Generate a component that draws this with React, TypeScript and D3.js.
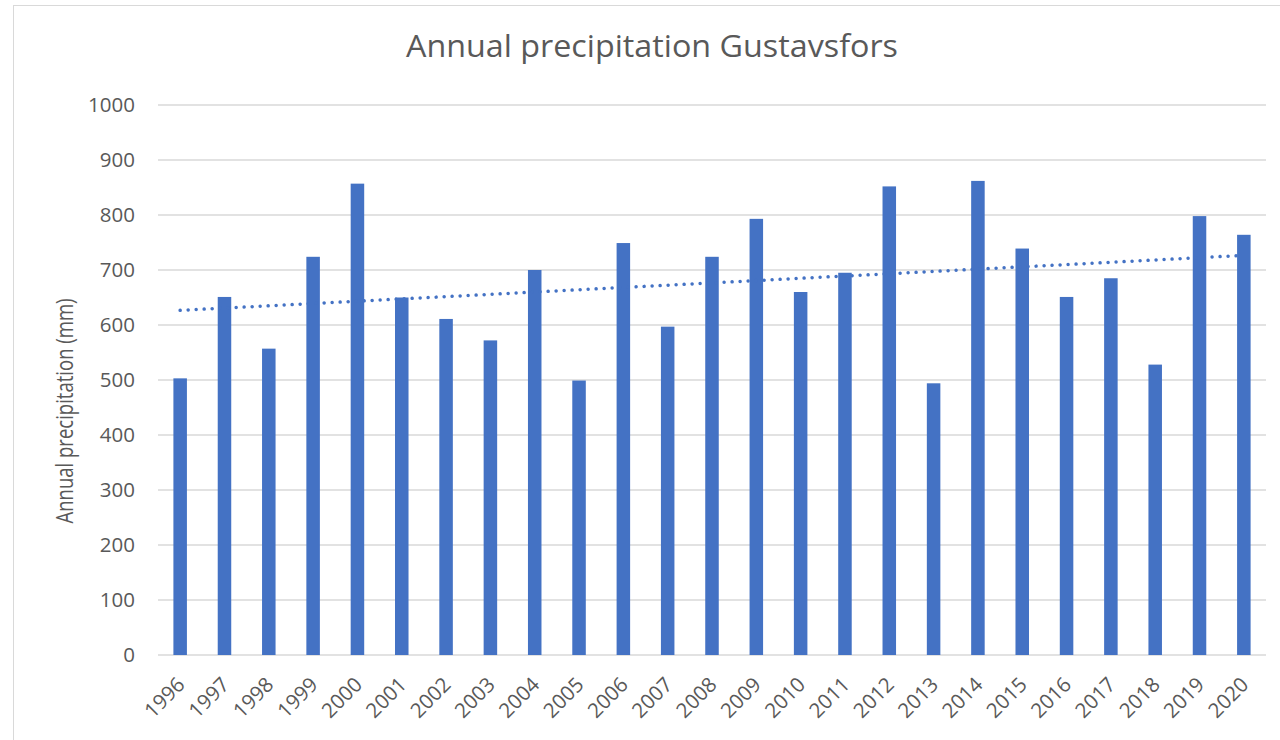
import React from "react";
import * as d3 from "d3";

const years = [
  "1996", "1997", "1998", "1999", "2000", "2001", "2002", "2003", "2004", "2005",
  "2006", "2007", "2008", "2009", "2010", "2011", "2012", "2013", "2014", "2015",
  "2016", "2017", "2018", "2019", "2020",
];
const precipitation = [
  503, 651, 557, 724, 857, 650, 611, 572, 700, 499,
  749, 597, 724, 793, 660, 695, 852, 494, 862, 739,
  651, 685, 528, 798, 764,
];
const yTicks = [0, 100, 200, 300, 400, 500, 600, 700, 800, 900, 1000];
const title = "Annual precipitation Gustavsfors";
const yAxisTitle = "Annual precipitation (mm)";

const W = 1280;
const H = 740;
const plotLeft = 158;
const plotRight = 1266;
const plotTop = 105;
const plotBottom = 655;
const textColor = "#595959";
const gridColor = "#D9D9D9";
const barColor = "#4472C4";
const font = "'Open Sans', sans-serif";

export default function App() {
  const x = d3
    .scaleBand<string>()
    .domain(years)
    .range([plotLeft, plotRight])
    .paddingInner(0.695)
    .paddingOuter(0.3475);
  const y = d3.scaleLinear().domain([0, 1000]).range([plotBottom, plotTop]);

  // linear trendline (least squares over category index)
  const n = precipitation.length;
  const xs = precipitation.map((_, i) => i + 1);
  const mx = d3.mean(xs) as number;
  const my = d3.mean(precipitation) as number;
  let num = 0;
  let den = 0;
  xs.forEach((xi, i) => {
    num += (xi - mx) * (precipitation[i] - my);
    den += (xi - mx) * (xi - mx);
  });
  const slope = num / den;
  const intercept = my - slope * mx;
  const trendPts: [number, number][] = [
    [x(years[0])! + x.bandwidth() / 2, y(intercept + slope * 1)],
    [x(years[n - 1])! + x.bandwidth() / 2, y(intercept + slope * n)],
  ];
  const line = d3.line();

  return (
    <svg
      width={W}
      height={H}
      style={{ position: "absolute", left: 0, top: 0, background: "#fff" }}
    >
      <rect x={0} y={0} width={W} height={H} fill="#fff" />
      <rect
        x={13.5}
        y={5.5}
        width={W + 10}
        height={H + 10}
        fill="none"
        stroke={gridColor}
        strokeWidth={1}
      />
      <text
        x={652}
        y={57}
        textAnchor="middle"
        fontFamily={font}
        fontSize={31}
        fill={textColor}
        textLength={492}
        lengthAdjust="spacingAndGlyphs"
      >
        {title}
      </text>

      {yTicks.map((t) => (
        <g key={t}>
          <line
            x1={plotLeft}
            x2={plotRight}
            y1={y(t)}
            y2={y(t)}
            stroke={gridColor}
            strokeWidth={1.5}
          />
          <text
            x={135}
            y={y(t)}
            dy="0.36em"
            textAnchor="end"
            fontFamily={font}
            fontSize={20.5}
            fill={textColor}
          >
            {t}
          </text>
        </g>
      ))}

      <g transform="translate(73,411) rotate(-90)">
        <text
          x={0}
          y={0}
          textAnchor="middle"
          fontFamily={font}
          fontSize={24}
          fill={textColor}
          textLength={225}
          lengthAdjust="spacingAndGlyphs"
        >
          {yAxisTitle}
        </text>
      </g>

      {precipitation.map((v, i) => (
        <rect
          key={years[i]}
          x={x(years[i])}
          y={y(v)}
          width={x.bandwidth()}
          height={y(0) - y(v)}
          fill={barColor}
        />
      ))}

      <path
        d={line(trendPts) || ""}
        fill="none"
        stroke={barColor}
        strokeWidth={3.5}
        strokeLinecap="round"
        strokeDasharray="0.01 8"
      />

      {years.map((yr) => {
        const cx = x(yr)! + x.bandwidth() / 2;
        return (
          <g key={yr} transform={`translate(${cx + 6},686) rotate(-45)`}>
            <text
              x={0}
              y={0}
              textAnchor="end"
              fontFamily={font}
              fontSize={20.5}
              fill={textColor}
            >
              {yr}
            </text>
          </g>
        );
      })}
    </svg>
  );
}
